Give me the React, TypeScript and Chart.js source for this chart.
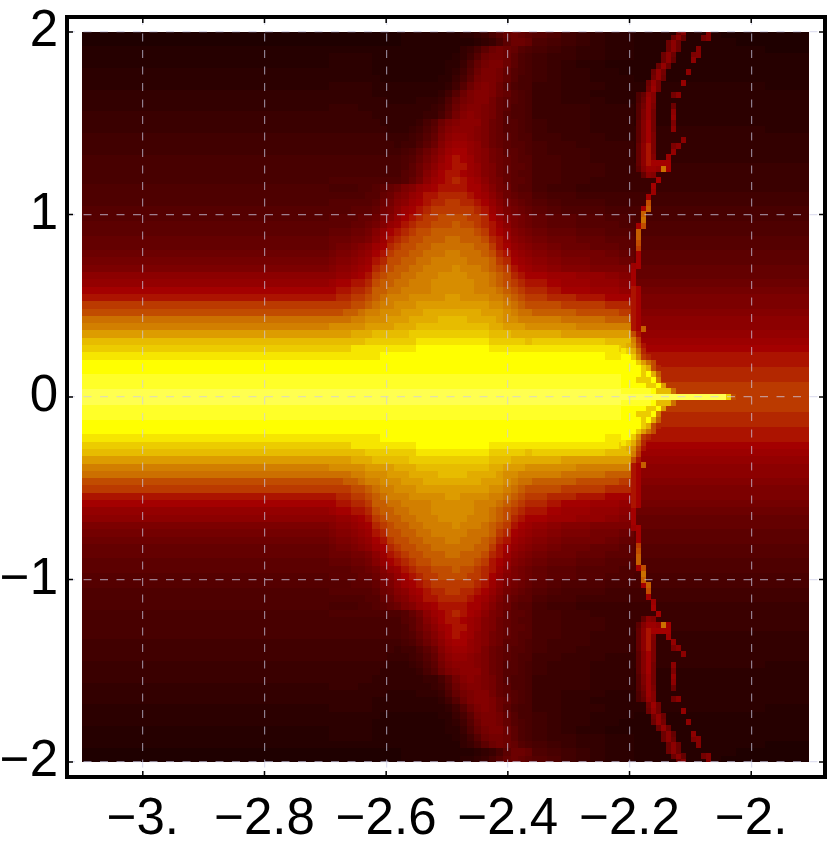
import React, { useEffect, useRef } from "react";
import { Chart, registerables } from "chart.js";

Chart.register(...registerables);

const xTickValues = [-3, -2.8, -2.6, -2.4, -2.2, -2];
const xTickLabels = ["\u22123.", "\u22122.8", "\u22122.6", "\u22122.4", "\u22122.2", "\u22122."];
const yTickValues = [2, 1, 0, -1, -2];
const yTickLabels = ["2", "1", "0", "\u22121", "\u22122"];

// Colour levels: one base-36 digit per cell.
const levelStops = [0, 10, 16, 19, 22, 25, 28, 31, 33, 35];
const levelColours = [
  [24, 0, 0], [92, 0, 0], [140, 0, 0], [164, 0, 0], [187, 58, 0],
  [204, 112, 0], [221, 156, 0], [236, 204, 0], [255, 255, 0], [255, 255, 80],
];

// Upper half of the field, top row first.
// Each row: flat left value, then the fine lobe columns, the gap columns and the right columns.
const fieldRows = [
  "1 111111111122222222334579bcba 9865433 222222111111",
  "1 111111111122222222223457accba8 8765433 222222211111",
  "2 222222222222222222457acdcb98 7654433 222222222111",
  "2 3333332222222222 23469cddca87 6554433 222222222222",
  "2 333333222222222233 58bdeeca87 6543322 222222222222",
  "3 333333222222222234 69ceedb987 6544332 222222222222",
  "3 333333322222222335 7adeedb977 6544333 222222222222",
  "3 444444333333333346 9cefeca877 5544433 333333333222",
  "4 444444333333333469ceffecb987 5544333 333333333333",
  "4 44444444333344458bdeffdba987 5544433 333333333333",
  "4 55554444444444569ceffedba887 5555444 333333333333",
  "5 5555554444444557adfgfedb9887 5555444 333333333333",
  "5 555555544444579cefgggecb9987 6555444 333333333333",
  "5 55555555444568adfgggfecb9987 6555444 444444444333",
  "6 66666666555679beghhgfecba988 6655544 444444444444",
  "6 6666666665668acfhiihgecba998 7665555 444444444444",
  "6 666666666678acegijjhgfdcaa98 7666555 444444444444",
  "7 777777777789bdfhjkjigfdcba99 7766555 444444444444",
  "7 77777777778acegijkkihfecbaa9 7766655 555555555555",
  "7 77777777779acfhjkkjihfecba99 7766655 555555555555",
  "7 88888888889bdgijklkjigedbaa9 7766555 555555555555",
  "8 7777889abcefhijkkkkjjhfdca99 7665555 555555555555",
  "8 8888899bcefhikkllllkjigecbaa 8776666 666666666666",
  "8 999999acdfgijkllmmllkjhfdcba 9877766 666666666666",
  "9 999aaabdegijklmmmmmmlkigedcb a988877 777777777777",
  "9 aaaabbcefhjklmmnnnnmmljhfedc baa9988 777777777777",
  "a aaabbcdfhiklmmnnnonnmlkigedc baa9998 888888888888",
  "a bbbccdfhjklmnnoooooonmkjhfed cbbaa99 888888888888",
  "b cccddegiklmnnoooppooonlkigfe dccbbaa 999999999999",
  "b cddefgijlmnnooppppppoomkjhgf edccbba 999999999999",
  "c deefghjkmnnoopppqqppponlkihg fedddcb aaaaaaaaaaaa",
  "d effghiklnnooppqqqqqpppomljih gfeeddc aaaaaaaaaaaa",
  "e fgghijlmnooppqqqqrqqqponmkji hgffeee bbbbbbbbbbbb",
  "g ghhijkmnooppqqqrrrrqqqponlkj jiihhgf bbbbbbbbbbbb",
  "h ijjkklnooppqqqrrrrrrqqponmlk kjiihhg cccccccccccc",
  "j jkkllmooppqqqqrrrrrrqqqponml lkjjiih dddddddddddd",
  "k kllmmnopqqqrrrrrssrrrrqqponm mllkkjj eeeeeeeeeeee",
  "m mmmnnopqqrrrssssssssssrrqpon nnmmmll eeeeeeeeeeee",
  "n nnoopqqrrrsssttttttttsssrqpp ooonnnm ffffffffffff",
  "p pppqqrrrsssttttuuuuttttsrrqq qqpppoo gggggggggggg",
  "q rrrrrsssstttuuuuuuuuuuttsssr rrrqqqq gggggggggggg",
  "s ssstttuuuuuvvvvvvvvvvvuuuttt ttsssss hhhhhhhhhhhh",
  "u uuuuuvvvvvvvwwwwwwwwwwvvvvvu vvvvvuu iiiiiiiiiiii",
  "v vvvwwwwwwwwwxxxxxxxxxxwwwwww wwwwwwv jjjjjjjjjjjj",
  "w wwwwwwwxxxxxxxxxxxxxxxxxxxxx xxxxxww kkkkkkkkkkkk",
  "x xxxxxxxxxxxxxxxxxxxxxxxxxxxx xxxxxxx kkkkkkkkkkkk",
  "x xxxxxxxxxxxxxxxxxxxxxxxxxxxx xxxxxxx llllllllllll",
  "y yyyyyyyyyyyyyyyyyyyyyyyyyyyy yyyyyyy llllllllllll",
  "y yyyyyyyyyyyyyyyyyyyyyyyyyyyy yyyyyyy mmmmmmmmmmmm",
  "z zzzzzzzzzzzzzzzzzzzzzzzzzzzz zzzzzzz mmmmmmmmmmmm",
];

// Fine cells of the thin ridge near x = -2.15, top row first; the last row is y = 0.
const ridgeRows = [
  "...........cf....f",
  "..........cgb...df",
  ".........cgc",
  ".........cgc...f",
  "........cgc...ef",
  "........cgb...g",
  ".......chc",
  "......chd....g",
  "......dhc",
  ".....chd....h",
  ".....did",
  "...8bhf...dg",
  "...8cif",
  "...9die...c",
  "...9eid...g",
  "...9eid...h",
  "...afjd...e",
  "...afjd...g",
  "...afje",
  "...afje.....g",
  "...bgke...eg",
  "...bgke...h",
  "...bgkf..i",
  "...bgkjjjj",
  "...afiihpj",
  "....bgf",
  ".......j",
  "......j",
  "......i",
  ".....j",
  ".....n",
  "....jo",
  "....o",
  "....p",
  "...jn",
  "...o",
  "...o",
  "...n",
  "...m",
  "...j",
  "...j",
  "..ij",
  "..j",
  "..j",
  "..j",
  "..kj",
  "..kj",
  "..kj",
  "..kj",
  "..kj",
  "..kj",
  "..kj",
  "..kjo",
  "..nk",
  "..qm",
  "utrnk",
  "wvtpl",
  "xxvrml",
  "xxxvspn",
  "xxxxvtnl",
  "xxxxvxto",
  "xxxvvvxq",
  "xxxxxvvxs",
  "yyyyyyxuuup",
  "zzzzzzzzzzzzzzzzzzzzzvn",
];

const xMin = -3.1246;
const xMax = -1.8787;
const yLimit = 2.082;
const fieldLeft = -3.1;
const fieldStepX = 0.0239;
const fieldStepY = 0.04;
const ridgeLeft = -2.2098;
const ridgeStepX = 0.0082;
const ridgeStepY = 0.03125;

function levelColour(level: number) {
  let i = 0;
  while (i < levelStops.length - 2 && level > levelStops[i + 1]) i++;
  const t = (level - levelStops[i]) / (levelStops[i + 1] - levelStops[i]);
  const c = levelColours[i].map((a, k) => Math.round(a + (levelColours[i + 1][k] - a) * t));
  return `rgb(${c[0]},${c[1]},${c[2]})`;
}

const stamps = new Map<string, HTMLCanvasElement>();
function stamp(level: number, w: number, h: number) {
  const key = `${level}-${w}-${h}`;
  let c = stamps.get(key);
  if (!c) {
    c = document.createElement("canvas");
    c.width = w;
    c.height = h;
    const g = c.getContext("2d")!;
    g.fillStyle = levelColour(level);
    g.fillRect(0, 0, w, h);
    stamps.set(key, c);
  }
  return c;
}

function buildField() {
  const data: { x: number; y: number }[] = [];
  const styles: HTMLCanvasElement[] = [];
  const put = (x: number, y: number, level: number, w: number) => {
    data.push({ x, y }, { x, y: -y });
    styles.push(stamp(level, w, 9), stamp(level, w, 9));
  };
  fieldRows.forEach((r, i) => {
    const parts = r.split(/\s+/);
    const right = parts.pop()!;
    const gap = parts.pop()!;
    const left = parts.shift()!;
    const lobe = parts.join("");
    const y = 2 - fieldStepY * (i + 0.5);
    for (let j = 0; j < 17; j++) {
      put(fieldLeft + fieldStepX * (j + 0.5), y, parseInt(left, 36), 16);
    }
    for (let j = 0; j < lobe.length; j++) {
      put(fieldLeft + fieldStepX * (17 + (j + 0.5) / 2), y, parseInt(lobe[j], 36), 8);
    }
    for (let j = 0; j < gap.length; j++) {
      put(fieldLeft + fieldStepX * (31 + j + 0.5), y, parseInt(gap[j], 36), 16);
    }
    for (let j = 0; j < right.length; j++) {
      put(fieldLeft + fieldStepX * (38 + j + 0.5), y, parseInt(right[j], 36), 16);
    }
  });
  return { data, styles };
}

function buildRidge() {
  const data: { x: number; y: number }[] = [];
  const styles: HTMLCanvasElement[] = [];
  const last = ridgeRows.length - 1;
  ridgeRows.forEach((row, i) => {
    for (let j = 0; j < row.length; j++) {
      if (row[j] === ".") continue;
      const level = parseInt(row[j], 36);
      const x = ridgeLeft + ridgeStepX * j;
      const y = (last - i) * ridgeStepY;
      data.push({ x, y });
      styles.push(stamp(level, 5, 6));
      if (i !== last) {
        data.push({ x, y: -y });
        styles.push(stamp(level, 5, 6));
      }
    }
  });
  return { data, styles };
}

const framePlugin = {
  id: "frame",
  afterDraw(chart: any) {
    const { ctx, chartArea: a, scales } = chart;
    ctx.save();
    ctx.strokeStyle = "#000";
    ctx.lineWidth = 1.5;
    ctx.setLineDash([]);
    xTickValues.forEach((v) => {
      const p = scales.x.getPixelForValue(v);
      ctx.beginPath();
      ctx.moveTo(p, a.top);
      ctx.lineTo(p, a.top + 6);
      ctx.moveTo(p, a.bottom);
      ctx.lineTo(p, a.bottom - 6);
      ctx.stroke();
    });
    yTickValues.forEach((v) => {
      const p = scales.y.getPixelForValue(v);
      ctx.beginPath();
      ctx.moveTo(a.left, p);
      ctx.lineTo(a.left + 6, p);
      ctx.moveTo(a.right, p);
      ctx.lineTo(a.right - 6, p);
      ctx.stroke();
    });
    ctx.lineWidth = 4;
    ctx.strokeRect(a.left, a.top, a.right - a.left, a.bottom - a.top);
    ctx.restore();
  },
};

const noPadding = (s: any) => {
  s.paddingTop = 0;
  s.paddingBottom = 0;
  s.paddingLeft = 0;
  s.paddingRight = 0;
};

export default function App() {
  const ref = useRef<HTMLCanvasElement>(null);
  useEffect(() => {
    document.body.style.margin = "0";
    const field = buildField();
    const ridge = buildRidge();
    const font = { family: "'Liberation Sans'", size: 51 };
    const gridOptions = { color: "rgba(205,205,230,0.62)", lineWidth: 1.2, drawTicks: false, z: 1 };
    const clip = { left: -15, right: -16, top: -15, bottom: -15 };
    const chart = new Chart(ref.current!, {
      type: "scatter",
      data: {
        datasets: [
          { data: ridge.data, pointStyle: ridge.styles, pointRadius: 1, clip } as any,
          { data: field.data, pointStyle: field.styles, pointRadius: 1, clip } as any,
        ],
      },
      plugins: [framePlugin],
      options: {
        responsive: false,
        animation: false,
        events: [],
        layout: { padding: { top: 17, right: 3, left: 0, bottom: 0 } },
        plugins: { legend: { display: false }, tooltip: { enabled: false } },
        scales: {
          x: {
            type: "linear",
            min: xMin,
            max: xMax,
            afterBuildTicks: (s: any) => { s.ticks = xTickValues.map((value) => ({ value })); },
            afterFit: (s: any) => { s.height = 72; noPadding(s); },
            ticks: {
              color: "#000",
              font,
              padding: 12,
              maxRotation: 0,
              autoSkip: false,
              callback: (v: any) => xTickLabels[xTickValues.indexOf(v)],
            },
            grid: gridOptions,
            border: { display: false, dash: [8, 8.5] },
          },
          y: {
            type: "linear",
            min: -yLimit,
            max: yLimit,
            afterBuildTicks: (s: any) => { s.ticks = yTickValues.map((value) => ({ value })); },
            afterFit: (s: any) => { s.width = 67; noPadding(s); },
            ticks: {
              color: "#000",
              font,
              padding: 9,
              autoSkip: false,
              callback: (v: any) => yTickLabels[yTickValues.indexOf(v)],
            },
            grid: gridOptions,
            border: { display: false, dash: [8, 8.5] },
          },
        },
      },
    } as any);
    return () => chart.destroy();
  }, []);
  return <canvas ref={ref} width={830} height={849} style={{ display: "block" }} />;
}
